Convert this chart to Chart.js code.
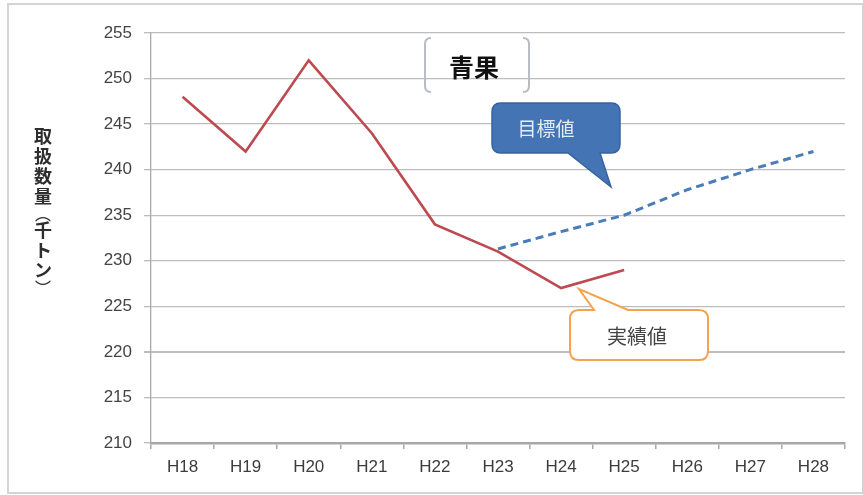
<!DOCTYPE html>
<html>
<head>
<meta charset="utf-8">
<script src="https://cdn.jsdelivr.net/npm/chart.js@4/dist/chart.umd.min.js"></script>
<style>
  html, body { margin: 0; padding: 0; background: #fff; }
  canvas { display: block; }
</style>
</head>
<body>
<canvas id="c" width="863" height="495"></canvas>
<script>
// Fiscal years (Heisei)
const categories = ['H18', 'H19', 'H20', 'H21', 'H22', 'H23', 'H24', 'H25', 'H26', 'H27', 'H28'];
// Actual handling volume (thousand tons)
const actualValues = [248, 242, 252, 244, 234, 231, 227, 229, null, null, null];
// Target handling volume (thousand tons)
const targetValues = [null, null, null, null, null, 231.3, 233.2, 235, 237.8, 240, 242];
// Value axis range
const yMin = 210, yMax = 255, yStep = 5;

const yTitleChars = ['取', '扱', '数', '量', '︵', '千', 'ト', 'ン', '︶'];
const CJK = '"Noto Sans CJK JP", "Noto Sans CJK SC", sans-serif';
const LAT = '"Liberation Sans", Arial, sans-serif';

// Callout bubble: rounded rectangle with a pointed tail
function bubble(ctx, x, y, w, h, r, tail, side) {
  ctx.beginPath();
  ctx.moveTo(x + r, y);
  if (side === 'top') {
    ctx.lineTo(tail.b0, y);
    ctx.lineTo(tail.tx, tail.ty);
    ctx.lineTo(tail.b1, y);
  }
  ctx.lineTo(x + w - r, y);
  ctx.quadraticCurveTo(x + w, y, x + w, y + r);
  ctx.lineTo(x + w, y + h - r);
  ctx.quadraticCurveTo(x + w, y + h, x + w - r, y + h);
  if (side === 'bottom') {
    ctx.lineTo(tail.b1, y + h);
    ctx.lineTo(tail.tx, tail.ty);
    ctx.lineTo(tail.b0, y + h);
  }
  ctx.lineTo(x + r, y + h);
  ctx.quadraticCurveTo(x, y + h, x, y + h - r);
  ctx.lineTo(x, y + r);
  ctx.quadraticCurveTo(x, y, x + r, y);
  ctx.closePath();
}

const decorations = {
  id: 'decorations',
  beforeDraw(chart) {
    const ctx = chart.ctx;
    ctx.save();
    ctx.fillStyle = '#fff';
    ctx.fillRect(0, 0, chart.width, chart.height);
    ctx.strokeStyle = '#d4d4d4';
    ctx.lineWidth = 2;
    ctx.strokeRect(8, 4, chart.width - 8, chart.height - 6);
    ctx.restore();
  },
  afterDraw(chart) {
    const ctx = chart.ctx;
    const xs = chart.scales.x, ys = chart.scales.y;
    ctx.save();

    // vertical axis title, written top to bottom
    ctx.fillStyle = '#2e2e2e';
    ctx.font = 'bold 18px ' + CJK;
    ctx.textAlign = 'center';
    ctx.textBaseline = 'middle';
    let ty = 136;
    yTitleChars.forEach(ch => {
      const paren = (ch === '︵' || ch === '︶');
      if (paren) {
        ctx.font = '16px ' + CJK;
        ctx.fillText(ch, 43, ty - 2);
        ctx.font = 'bold 18px ' + CJK;
        ty += 14;
      } else {
        ctx.fillText(ch, 43, ty);
        ty += 20;
      }
    });

    // title box with bracket borders
    ctx.strokeStyle = '#b8bcc4';
    ctx.lineWidth = 2;
    const bx0 = 425, bx1 = 529, by0 = 38, by1 = 92;
    ctx.beginPath();
    ctx.moveTo(bx0 + 6, by0); ctx.quadraticCurveTo(bx0, by0, bx0, by0 + 6);
    ctx.lineTo(bx0, by1 - 6); ctx.quadraticCurveTo(bx0, by1, bx0 + 6, by1);
    ctx.moveTo(bx1 - 6, by0); ctx.quadraticCurveTo(bx1, by0, bx1, by0 + 6);
    ctx.lineTo(bx1, by1 - 6); ctx.quadraticCurveTo(bx1, by1, bx1 - 6, by1);
    ctx.stroke();
    ctx.fillStyle = '#111';
    ctx.font = 'bold 25px ' + CJK;
    ctx.fillText('青果', 474, 67);

    // target callout
    bubble(ctx, 492, 103, 128, 50, 9, { b0: 568, b1: 600, tx: 611, ty: 187 }, 'bottom');
    ctx.fillStyle = '#4474b4';
    ctx.fill();
    ctx.strokeStyle = '#35639f';
    ctx.lineWidth = 1.5;
    ctx.stroke();
    ctx.fillStyle = '#e4ecf7';
    ctx.font = '19px ' + CJK;
    ctx.fillText('目標値', 546, 129);

    // actual callout, pointing at the H24 result
    const px = xs.getPixelForValue(6), py = ys.getPixelForValue(actualValues[6]);
    bubble(ctx, 570, 310, 138, 50, 9, { b0: 594, b1: 628, tx: px + 18, ty: py + 1 }, 'top');
    ctx.fillStyle = '#fff';
    ctx.fill();
    ctx.strokeStyle = '#f5a14e';
    ctx.lineWidth = 2;
    ctx.stroke();
    ctx.fillStyle = '#444';
    ctx.font = '20px ' + CJK;
    ctx.fillText('実績値', 637, 336);

    ctx.restore();
  }
};

new Chart(document.getElementById('c'), {
  type: 'line',
  data: {
    labels: categories,
    datasets: [
      {
        label: '実績値',
        data: actualValues,
        borderColor: '#bc4a50',
        borderWidth: 2.6,
        pointRadius: 0,
        tension: 0,
        spanGaps: false
      },
      {
        label: '目標値',
        data: targetValues,
        borderColor: '#4a7cb8',
        borderWidth: 3,
        borderDash: [8, 5],
        pointRadius: 0,
        tension: 0,
        spanGaps: false
      }
    ]
  },
  options: {
    responsive: false,
    devicePixelRatio: 1,
    animation: false,
    layout: { padding: { left: 0, right: 18, top: 33, bottom: 0 } },
    plugins: { legend: { display: false }, tooltip: { enabled: false } },
    scales: {
      x: {
        offset: true,
        grid: {
          offset: true,
          drawOnChartArea: false,
          drawTicks: true,
          tickLength: 6,
          color: '#a8a8a8',
          lineWidth: 1.5
        },
        border: { color: '#a8a8a8', width: 2.5 },
        ticks: {
          color: '#3c3c3c',
          font: { family: LAT, size: 17 },
          padding: 8,
          maxRotation: 0,
          autoSkip: false
        },
        afterFit(scale) { scale.height = 52; }
      },
      y: {
        min: yMin,
        max: yMax,
        grid: {
          color: '#bdbdbd',
          lineWidth: ctx => (ctx.tick && ctx.tick.value === 220 ? 2 : 1.3),
          tickLength: 7
        },
        border: { color: '#a8a8a8', width: 1.3 },
        ticks: {
          stepSize: yStep,
          color: '#444',
          font: { family: LAT, size: 17 },
          padding: 12
        },
        afterFit(scale) { scale.width = 151; }
      }
    }
  },
  plugins: [decorations]
});
</script>
</body>
</html>
